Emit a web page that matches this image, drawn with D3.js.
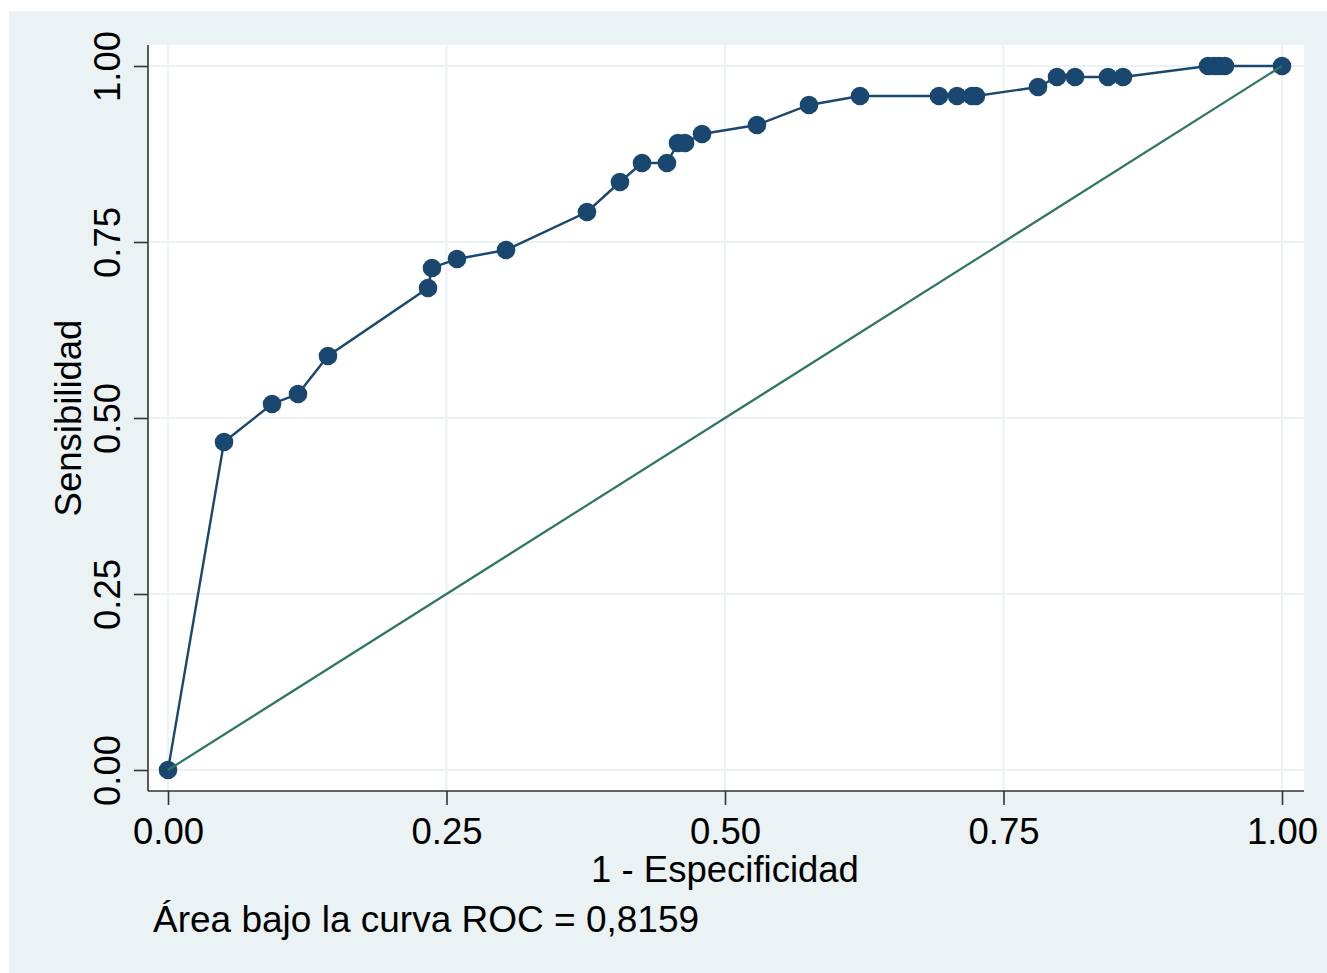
<!DOCTYPE html>
<html>
<head>
<meta charset="utf-8">
<script src="https://cdn.jsdelivr.net/npm/d3@7"></script>
<style>
  body { margin: 0; background: #ffffff; }
  text { font-family: "Liberation Sans", Arial, sans-serif; fill: #000; }
</style>
</head>
<body>
<div id="chart"></div>
<script>
// ROC curve points (1 - especificidad, sensibilidad)
var fpr = [0, 0.0503, 0.0934, 0.1167, 0.1436, 0.2334, 0.2370, 0.2594, 0.3034,
  0.3761, 0.4057, 0.4255, 0.4479, 0.4578, 0.4641, 0.4794, 0.5287, 0.5754,
  0.6212, 0.6921, 0.7083, 0.7217, 0.7253, 0.7810, 0.7980, 0.8142, 0.8438,
  0.8573, 0.9336, 0.9390, 0.9435, 0.9488, 1];
var tpr = [0, 0.4659, 0.5199, 0.5341, 0.5881, 0.6847, 0.7131, 0.7259, 0.7386,
  0.7926, 0.8352, 0.8622, 0.8622, 0.8906, 0.8906, 0.9034, 0.9162, 0.9446,
  0.9574, 0.9574, 0.9574, 0.9574, 0.9574, 0.9702, 0.9844, 0.9844, 0.9844,
  0.9844, 1, 1, 1, 1, 1];

// reference diagonal
var refX = [0, 1];
var refY = [0, 1];

var tickVals = [0, 0.25, 0.5, 0.75, 1];
var tickLabels = ["0.00", "0.25", "0.50", "0.75", "1.00"];

var xTitle = "1 - Especificidad";
var yTitle = "Sensibilidad";
var note = "Área bajo la curva ROC = 0,8159";

var width = 1327;
var height = 973;

var svg = d3.select("#chart").append("svg")
  .attr("width", width)
  .attr("height", height);

// outer graph region
svg.append("rect")
  .attr("x", 9).attr("y", 11)
  .attr("width", width - 9).attr("height", height - 11)
  .attr("fill", "#eaf2f3");

// plot region
var plot = { left: 148, top: 45, right: 1304, bottom: 791 };

svg.append("rect")
  .attr("x", plot.left).attr("y", plot.top)
  .attr("width", plot.right - plot.left)
  .attr("height", plot.bottom - plot.top)
  .attr("fill", "#ffffff");

var x = d3.scaleLinear().domain([0, 1]).range([168, 1282]);
var y = d3.scaleLinear().domain([0, 1]).range([770, 66]);

// gridlines
svg.append("g").selectAll("line.gx")
  .data(tickVals).enter().append("line")
  .attr("x1", d => x(d)).attr("x2", d => x(d))
  .attr("y1", plot.top).attr("y2", plot.bottom)
  .attr("stroke", "#eaf2f3").attr("stroke-width", 2);

svg.append("g").selectAll("line.gy")
  .data(tickVals).enter().append("line")
  .attr("y1", d => y(d)).attr("y2", d => y(d))
  .attr("x1", plot.left).attr("x2", plot.right)
  .attr("stroke", "#eaf2f3").attr("stroke-width", 2);

// axes
var xAxis = d3.axisBottom(x)
  .tickValues(tickVals)
  .tickFormat((d, i) => tickLabels[i])
  .tickSize(14).tickPadding(13);

var gx = svg.append("g")
  .attr("transform", "translate(0," + plot.bottom + ")")
  .call(xAxis);
gx.select(".domain").remove();
gx.append("line")
  .attr("x1", plot.left).attr("x2", plot.right)
  .attr("stroke", "#333").attr("stroke-width", 1.6);
gx.selectAll(".tick line").attr("stroke", "#333").attr("stroke-width", 1.6);
gx.selectAll(".tick text")
  .attr("fill", "#000")
  .style("font-size", "36.5px")
  .style("font-family", "'Liberation Sans', Arial, sans-serif");

var yAxis = d3.axisLeft(y)
  .tickValues(tickVals)
  .tickFormat((d, i) => tickLabels[i])
  .tickSize(14);

var gy = svg.append("g")
  .attr("transform", "translate(" + plot.left + ",0)")
  .call(yAxis);
gy.select(".domain").remove();
gy.append("line")
  .attr("y1", plot.top).attr("y2", plot.bottom)
  .attr("stroke", "#333").attr("stroke-width", 1.6);
gy.selectAll(".tick line").attr("stroke", "#333").attr("stroke-width", 1.6);
gy.selectAll(".tick text")
  .attr("fill", "#000")
  .attr("x", 0).attr("dy", null)
  .attr("transform", "translate(-28,0) rotate(-90)")
  .attr("text-anchor", "middle")
  .style("font-size", "36.5px")
  .style("font-family", "'Liberation Sans', Arial, sans-serif");

// axis titles
svg.append("text")
  .attr("x", x(0.5)).attr("y", 882)
  .attr("text-anchor", "middle")
  .style("font-size", "36.5px")
  .text(xTitle);

svg.append("text")
  .attr("transform", "translate(81," + y(0.5) + ") rotate(-90)")
  .attr("text-anchor", "middle")
  .style("font-size", "36.5px")
  .text(yTitle);

svg.append("text")
  .attr("x", 153).attr("y", 932)
  .style("font-size", "37px")
  .text(note);

// ROC curve
var pts = fpr.map((d, i) => [d, tpr[i]]);

var line = d3.line()
  .x(d => x(d[0]))
  .y(d => y(d[1]));

svg.append("path")
  .datum(pts)
  .attr("d", line)
  .attr("fill", "none")
  .attr("stroke", "#1a476f")
  .attr("stroke-width", 2.4);

svg.append("g").selectAll("circle")
  .data(pts).enter().append("circle")
  .attr("cx", d => x(d[0]))
  .attr("cy", d => y(d[1]))
  .attr("r", 9.3)
  .attr("fill", "#1a476f");

// diagonal reference
svg.append("path")
  .datum(refX.map((d, i) => [d, refY[i]]))
  .attr("d", line)
  .attr("fill", "none")
  .attr("stroke", "#2f7563")
  .attr("stroke-width", 2.2);
</script>
</body>
</html>
